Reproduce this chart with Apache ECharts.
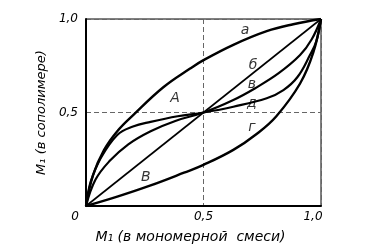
<!DOCTYPE html>
<html>
<head>
<meta charset="utf-8">
<script src="https://cdn.jsdelivr.net/npm/echarts@6/dist/echarts.min.js"></script>
<style>html,body{margin:0;padding:0;background:#fff;}#c{width:379px;height:251px;}</style>
</head>
<body>
<div id="c"></div>
<script>
// Curve data: [M1 in monomer mix, M1 in copolymer]
var curveA  = [[0,0],[0.03,0.165],[0.077,0.30],[0.133,0.40],[0.204,0.49],[0.329,0.635],[0.443,0.735],[0.5,0.78],[0.627,0.862],[0.769,0.935],[0.882,0.972],[1,1]];
var curveB6 = [[0,0],[1,1]];
var curveV  = [[0,0],[0.04,0.14],[0.1,0.24],[0.18,0.33],[0.275,0.40],[0.38,0.455],[0.5,0.5],[0.627,0.567],[0.72,0.63],[0.82,0.71],[0.911,0.807],[0.96,0.89],[1,1]];
var curveD  = [[0,0],[0.02,0.13],[0.06,0.25],[0.133,0.38],[0.2,0.425],[0.275,0.45],[0.39,0.48],[0.5,0.5],[0.627,0.531],[0.769,0.576],[0.84,0.62],[0.9,0.69],[0.953,0.807],[0.98,0.88],[1,1]];
var curveG  = [[0,0],[0.133,0.05],[0.275,0.11],[0.417,0.178],[0.5,0.22],[0.627,0.30],[0.726,0.385],[0.81,0.48],[0.911,0.655],[0.967,0.82],[1,1]];
var curveNames = ['а','б','в','д','г'];
var xTicks = {0:'0', 0.5:'0,5', 1:'1,0'};
var yTicks = {0.5:'0,5', 1:'1,0'};
var xTitle = 'M₁ (в мономерной  смеси)';
var yTitle = 'M₁ (в сополимере)';
// annotation letters with their places in data units
var notes = [['а',0.677,0.941],['б',0.711,0.754],['в',0.706,0.652],['д',0.706,0.551],['г',0.706,0.422],['A',0.379,0.578],['В',0.255,0.155]];

var FONT = 'DejaVu Sans';
var chart = echarts.init(document.getElementById('c'));
function lineSeries(name, data, w) {
  return {name:name, type:'line', data:data, smooth:0.4, symbol:'none',
    lineStyle:{color:'#000', width:w}, silent:true, z:3};
}
var series = [
  lineSeries(curveNames[0], curveA, 2.4),
  lineSeries(curveNames[1], curveB6, 1.6),
  lineSeries(curveNames[2], curveV, 2.2),
  lineSeries(curveNames[3], curveD, 2.2),
  lineSeries(curveNames[4], curveG, 2.4)
];
series.push({
  type:'scatter', data:notes.map(function(n){return {value:[n[1],n[2]], name:n[0]};}),
  symbolSize:0, silent:true,
  label:{show:true, position:'inside', formatter:function(p){return p.name;}, color:'#000',
    fontFamily:FONT, fontStyle:'italic', fontSize:14}
});
chart.setOption({
  animation:false,
  grid:{left:86, right:58, top:19, bottom:45, show:true, borderColor:'#000', borderWidth:1},
  xAxis:{type:'value', min:0, max:1, interval:0.5,
    axisLine:{lineStyle:{color:'#000', width:2}},
    axisTick:{show:false},
    splitLine:{show:true, lineStyle:{color:'#666', type:[5,3], width:1}},
    axisLabel:{color:'#000', fontFamily:FONT, fontStyle:'italic', fontSize:12, margin:5,
      formatter:function(v){ var t = xTicks[v]; if(t===undefined) return '';
        if(v===0) return '{l|'+t+'}'; if(v===1) return '{r|'+t+'}'; return t; },
      rich:{l:{padding:[0,22,0,0], fontFamily:FONT, fontStyle:'italic', fontSize:12, color:'#000'},
            r:{padding:[0,16,0,0], fontFamily:FONT, fontStyle:'italic', fontSize:12, color:'#000'}}},
    name:xTitle, nameLocation:'middle', nameGap:24,
    nameTextStyle:{color:'#000', fontFamily:FONT, fontStyle:'italic', fontSize:14, padding:[0,26,0,0]}
  },
  yAxis:{type:'value', min:0, max:1, interval:0.5,
    axisLine:{lineStyle:{color:'#000', width:2}},
    axisTick:{show:false},
    splitLine:{show:true, lineStyle:{color:'#666', type:[5,3], width:1}},
    axisLabel:{color:'#000', fontFamily:FONT, fontStyle:'italic', fontSize:12, margin:8,
      formatter:function(v){ var t = yTicks[v]; return t===undefined ? '' : t; }},
    name:yTitle, nameLocation:'middle', nameGap:37,
    nameTextStyle:{color:'#000', fontFamily:FONT, fontStyle:'italic', fontSize:13}
  },
  series:series
});
</script>
</body>
</html>
